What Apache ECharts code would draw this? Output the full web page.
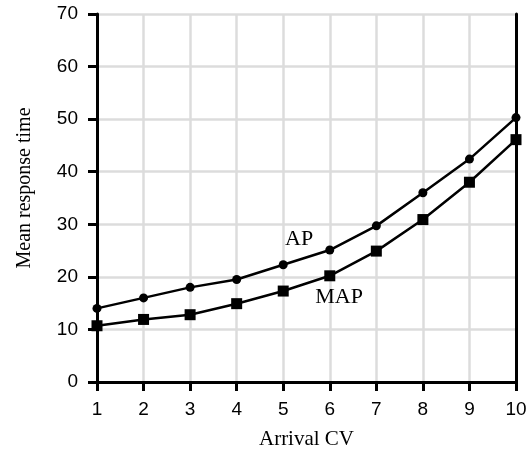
<!DOCTYPE html>
<html>
<head>
<meta charset="utf-8">
<script src="https://cdn.jsdelivr.net/npm/echarts@6/dist/echarts.min.js"></script>
<style>
  html, body { margin: 0; padding: 0; background: #fff; }
  #chart { width: 530px; height: 455px; }
</style>
</head>
<body>
<div id="chart"></div>
<script>
// arrival CV values on the x axis
const arrivalCV = [1, 2, 3, 4, 5, 6, 7, 8, 9, 10];
// mean response time
const apValues = [14.0, 16.0, 18.0, 19.5, 22.3, 25.1, 29.7, 36.0, 42.4, 50.3];
const mapValues = [10.7, 11.9, 12.8, 14.9, 17.3, 20.2, 24.9, 30.9, 38.0, 46.1];

const toPoints = (ys) => arrivalCV.map((x, i) => [x, ys[i]]);

const chart = echarts.init(document.getElementById("chart"));

const serif = "Liberation Serif";
const sans = "Liberation Sans";

// label sitting on the plot, no visible marker
const curveLabel = (text, coord) => ({
  symbol: "rect",
  symbolSize: 1,
  itemStyle: { color: "rgba(0,0,0,0)" },
  label: { show: true, position: "inside", formatter: text, fontFamily: serif, fontSize: 22, color: "#000" },
  data: [{ coord: coord }]
});

// plain black frame on the top and right
const frameAxis = {
  show: true,
  axisLine: { show: true, lineStyle: { color: "#000", width: 3 } },
  axisTick: { show: false },
  axisLabel: { show: false },
  splitLine: { show: false }
};

chart.setOption({
  animation: false,
  grid: { left: 97, right: 14, top: 14, bottom: 72 },
  xAxis: [
    {
      type: "value",
      min: 1,
      max: 10,
      interval: 1,
      name: "Arrival CV",
      nameLocation: "middle",
      nameGap: 47,
      nameTextStyle: { fontFamily: serif, fontSize: 21, color: "#000" },
      axisLine: { lineStyle: { color: "#000", width: 3 } },
      axisTick: { length: 9, lineStyle: { color: "#000", width: 3 } },
      axisLabel: { fontFamily: sans, fontSize: 19, color: "#000", margin: 18 },
      splitLine: { lineStyle: { color: "#dcdcdc", width: 2.5 } }
    },
    Object.assign({ type: "value", min: 1, max: 10, position: "top" }, frameAxis)
  ],
  yAxis: [
    {
      type: "value",
      min: 0,
      max: 70,
      interval: 10,
      name: "Mean response time",
      nameLocation: "middle",
      nameGap: 62,
      nameTextStyle: { fontFamily: serif, fontSize: 20, color: "#000", padding: [0, 0, 0, 20] },
      axisLine: { lineStyle: { color: "#000", width: 3 } },
      axisTick: { length: 9, lineStyle: { color: "#000", width: 3 } },
      axisLabel: { fontFamily: sans, fontSize: 19, color: "#000", margin: 19 },
      splitLine: { lineStyle: { color: "#dcdcdc", width: 2.5 } }
    },
    Object.assign({ type: "value", min: 0, max: 70, position: "right" }, frameAxis)
  ],
  series: [
    {
      name: "AP",
      type: "line",
      data: toPoints(apValues),
      symbol: "circle",
      symbolSize: 9,
      itemStyle: { color: "#000" },
      lineStyle: { color: "#000", width: 2.5 },
      z: 5,
      markPoint: curveLabel("AP", [5.34, 27.1])
    },
    {
      name: "MAP",
      type: "line",
      data: toPoints(mapValues),
      symbol: "rect",
      symbolSize: 11,
      itemStyle: { color: "#000" },
      lineStyle: { color: "#000", width: 2.5 },
      z: 5,
      markPoint: curveLabel("MAP", [6.2, 16.1])
    }
  ]
});
</script>
</body>
</html>
